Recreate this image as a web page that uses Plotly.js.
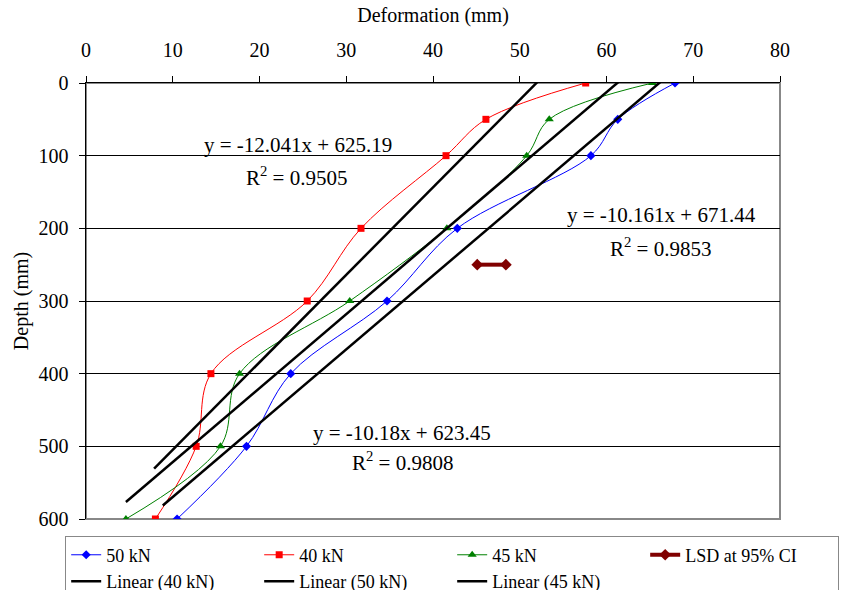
<!DOCTYPE html>
<html>
<head>
<meta charset="utf-8">
<script src="https://cdn.plot.ly/plotly-3.0.1.min.js"></script>
<style>html,body{margin:0;padding:0;background:#fff;}#chart{width:847px;height:590px;}</style>
</head>
<body>
<div id="chart"></div>
<script>
// Depth levels (mm)
const depth = [0, 50, 100, 200, 300, 400, 500, 600];
// Deformation (mm) per load
const def50 = [67.9, 61.3, 58.2, 42.8, 34.7, 23.6, 18.5, 10.5];
const def40 = [57.6, 46.1, 41.5, 31.7, 25.5, 14.4, 12.7, 8.0];
const def45 = [65.3, 53.4, 50.8, 41.6, 30.4, 17.7, 15.5, 4.6];
// LSD at 95% CI
const lsdX = [45.1, 48.4];
const lsdY = [250, 250];
// Linear trendlines: depth = slope * deformation + intercept
const trendNames = ["Linear (40 kN)", "Linear (50 kN)", "Linear (45 kN)"];
const trendSlope = [-12.041, -10.161, -10.18];
const trendIntercept = [625.19, 671.44, 623.45];
const trendXStart = [7.85, 8.85, 4.6];
const trendXEnd = [57.6, 67.9, 65.3];
const xTicks = [0, 10, 20, 30, 40, 50, 60, 70, 80];
const yTicks = [0, 100, 200, 300, 400, 500, 600];

const font = "Liberation Serif";

const traces = [
  {name: "50 kN", x: def50, y: depth, mode: "lines+markers", line: {color: "#0000ff", width: 1, shape: "spline"}, marker: {symbol: "diamond", size: 7, color: "#0000ff"}},
  {name: "40 kN", x: def40, y: depth, mode: "lines+markers", line: {color: "#ff0000", width: 1, shape: "spline"}, marker: {symbol: "square", size: 7, color: "#ff0000"}},
  {name: "45 kN", x: def45, y: depth, mode: "lines+markers", line: {color: "#008000", width: 1, shape: "spline"}, marker: {symbol: "triangle-up", size: 8, color: "#008000"}},
  {name: "LSD at 95% CI", x: lsdX, y: lsdY, mode: "lines+markers", line: {color: "#800000", width: 4}, marker: {symbol: "diamond", size: 9, color: "#800000"}}
];
for (let i = 0; i < trendNames.length; i++) {
  const xs = [trendXStart[i], trendXEnd[i]];
  traces.push({
    name: trendNames[i], x: xs, y: xs.map(v => trendSlope[i] * v + trendIntercept[i]),
    mode: "lines", line: {color: "#000000", width: 2.5}
  });
}

const annFont = {family: font, size: 21, color: "#000"};
const layout = {
  width: 847, height: 590,
  margin: {l: 86, r: 67, t: 83, b: 71, autoexpand: false},
  paper_bgcolor: "#fff", plot_bgcolor: "#fff",
  font: {family: font, size: 20, color: "#000"},
  showlegend: true,
  xaxis: {
    side: "top", range: [0, 80], tickvals: xTicks, ticks: "outside", ticklen: 6, tickcolor: "#000",
    ticklabelstandoff: 11,
    showline: true, linecolor: "#000", linewidth: 1.5, showgrid: false, zeroline: false,
    tickfont: {family: font, size: 20}, title: {text: "Deformation (mm)", font: {family: font, size: 20}, standoff: 10}
  },
  yaxis: {
    range: [600, 0], tickvals: yTicks, ticks: "outside", ticklen: 6, tickcolor: "#000",
    ticklabelstandoff: 6,
    showline: true, linecolor: "#000", linewidth: 1.5, showgrid: true, gridcolor: "#000", gridwidth: 1, zeroline: false,
    tickfont: {family: font, size: 20}, title: {text: "Depth (mm)", font: {family: font, size: 20}, standoff: 4}
  },
  shapes: [{type: "rect", xref: "paper", yref: "paper", x0: 0, x1: 1, y0: 0, y1: 1, line: {color: "#888", width: 2}, layer: "below"}],
  legend: {
    orientation: "h", x: -0.03, xanchor: "left", y: -0.038, yanchor: "top",
    entrywidth: 148, entrywidthmode: "pixels", traceorder: "normal",
    bordercolor: "#888", borderwidth: 1, bgcolor: "#fff",
    font: {family: font, size: 18}, tracegroupgap: 0, itemwidth: 30
  },
  annotations: [
    {x: 24.4, y: 85, text: "y = -12.041x + 625.19", showarrow: false, font: annFont},
    {x: 24.3, y: 129, text: "R<sup>2</sup> = 0.9505", showarrow: false, font: annFont},
    {x: 66.3, y: 181, text: "y = -10.161x + 671.44", showarrow: false, font: annFont},
    {x: 66.2, y: 226, text: "R<sup>2</sup> = 0.9853", showarrow: false, font: annFont},
    {x: 36.4, y: 481, text: "y = -10.18x + 623.45", showarrow: false, font: annFont},
    {x: 36.5, y: 521, text: "R<sup>2</sup> = 0.9808", showarrow: false, font: annFont}
  ]
};
Plotly.newPlot("chart", traces, layout, {displayModeBar: false, staticPlot: true});
</script>
</body>
</html>
